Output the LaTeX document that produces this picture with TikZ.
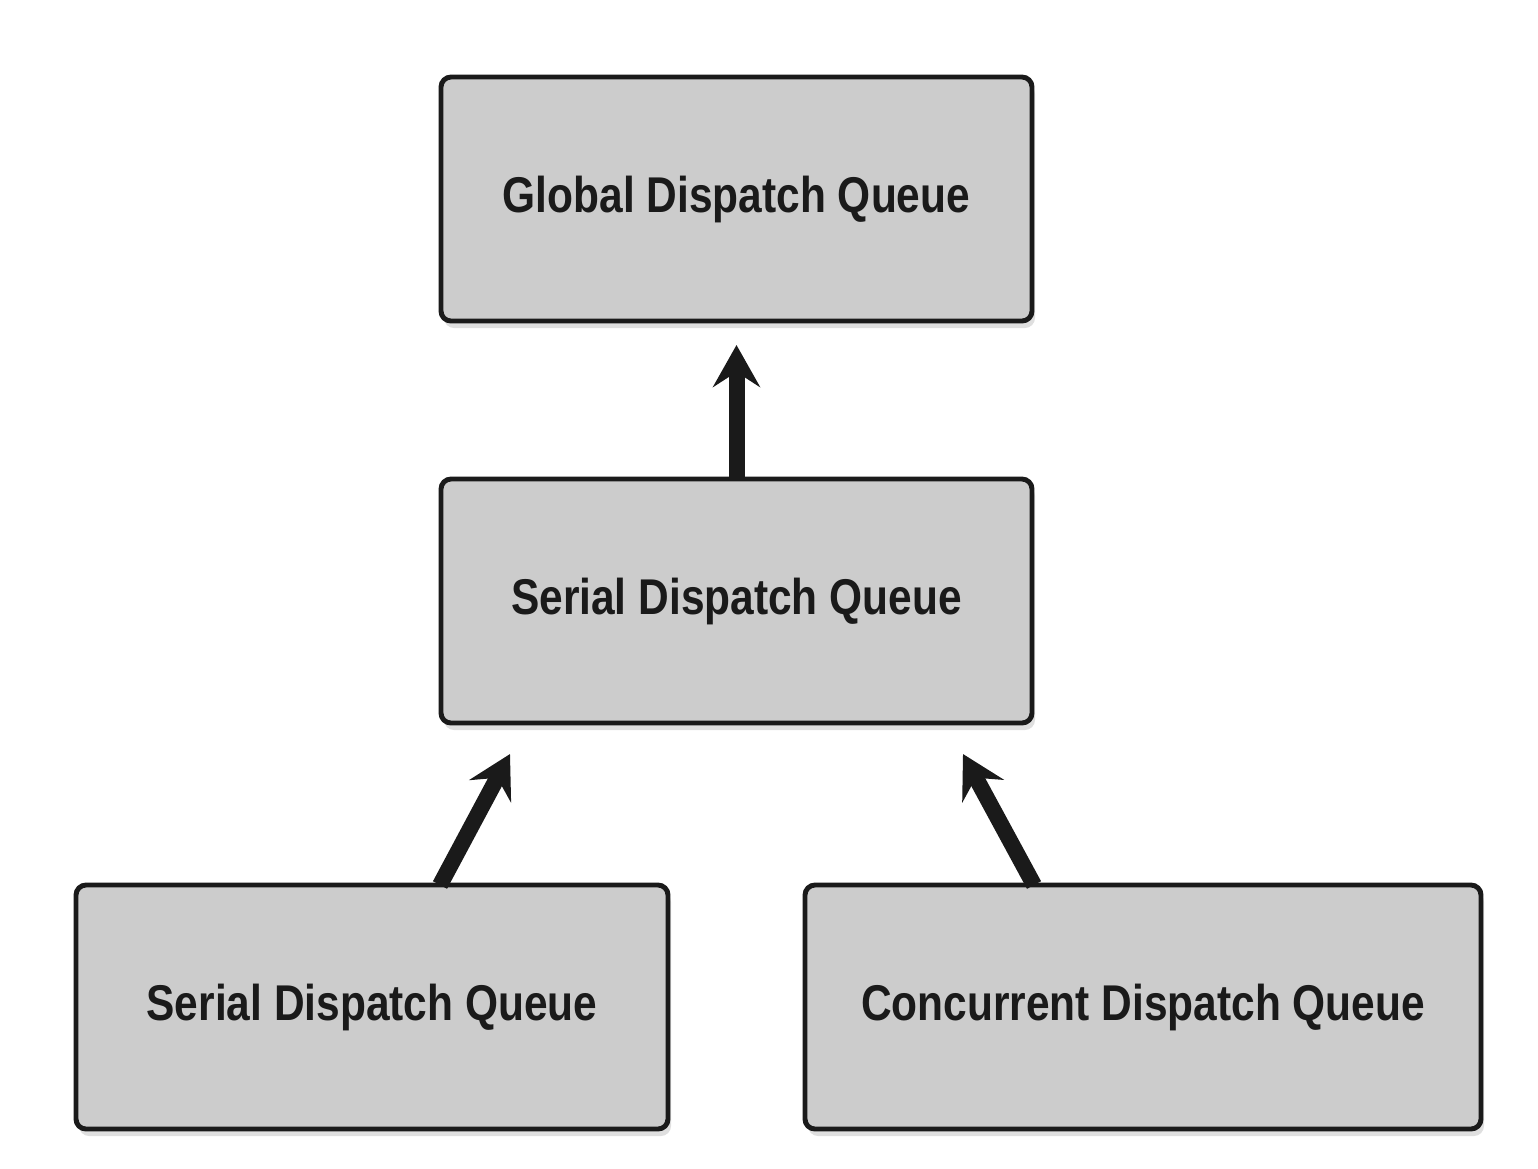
\documentclass[tikz,border=0pt]{standalone}
\usepackage{fontspec}
\newfontfamily\queuefont{Liberation Sans}[FakeStretch=0.845]
\usepackage{tikz}
\usetikzlibrary{arrows.meta,positioning,shadows}
\definecolor{inkdark}{RGB}{26,26,26}
\definecolor{boxgrey}{RGB}{204,204,204}

\begin{document}
\begin{tikzpicture}[
  every node/.style={font=\queuefont\bfseries\fontsize{14.3}{17}\selectfont,text=inkdark},
  qbox/.style={draw=inkdark,fill=boxgrey,line width=1.4pt,rounded corners=1mm,
               minimum height=24.4mm,inner sep=0pt,outer sep=0pt,
               drop shadow={opacity=0.25,shadow xshift=0.3mm,shadow yshift=-0.7mm}},
  arr/.style={-{Stealth[length=4.2mm,width=4.7mm,inset=1.5mm]},draw=inkdark,line width=1.6mm}]
\useasboundingbox (0,0) rectangle (15.38,-11.68);
\node[qbox,minimum width=59.1mm] (glob) at (7.365,-1.99) {Global Dispatch Queue};
\node[qbox,minimum width=59.1mm,below=15.8mm of glob] (ser) {Serial Dispatch Queue};
\node[qbox,minimum width=59.2mm,below=16.2mm of ser,xshift=-36.45mm] (serl) {Serial Dispatch Queue};
\node[qbox,minimum width=67.6mm,below=16.2mm of ser,xshift=40.65mm] (conc) {Concurrent Dispatch Queue};
\draw[arr] (ser.north) -- ([yshift=-2.4mm]glob.south);
\draw[arr] ([xshift=6.8mm]serl.north) -- ([xshift=6.9mm,yshift=-3.1mm]ser.south west);
\draw[arr] ([xshift=-10.9mm]conc.north) -- ([xshift=-6.9mm,yshift=-3.1mm]ser.south east);
\end{tikzpicture}
\end{document}
